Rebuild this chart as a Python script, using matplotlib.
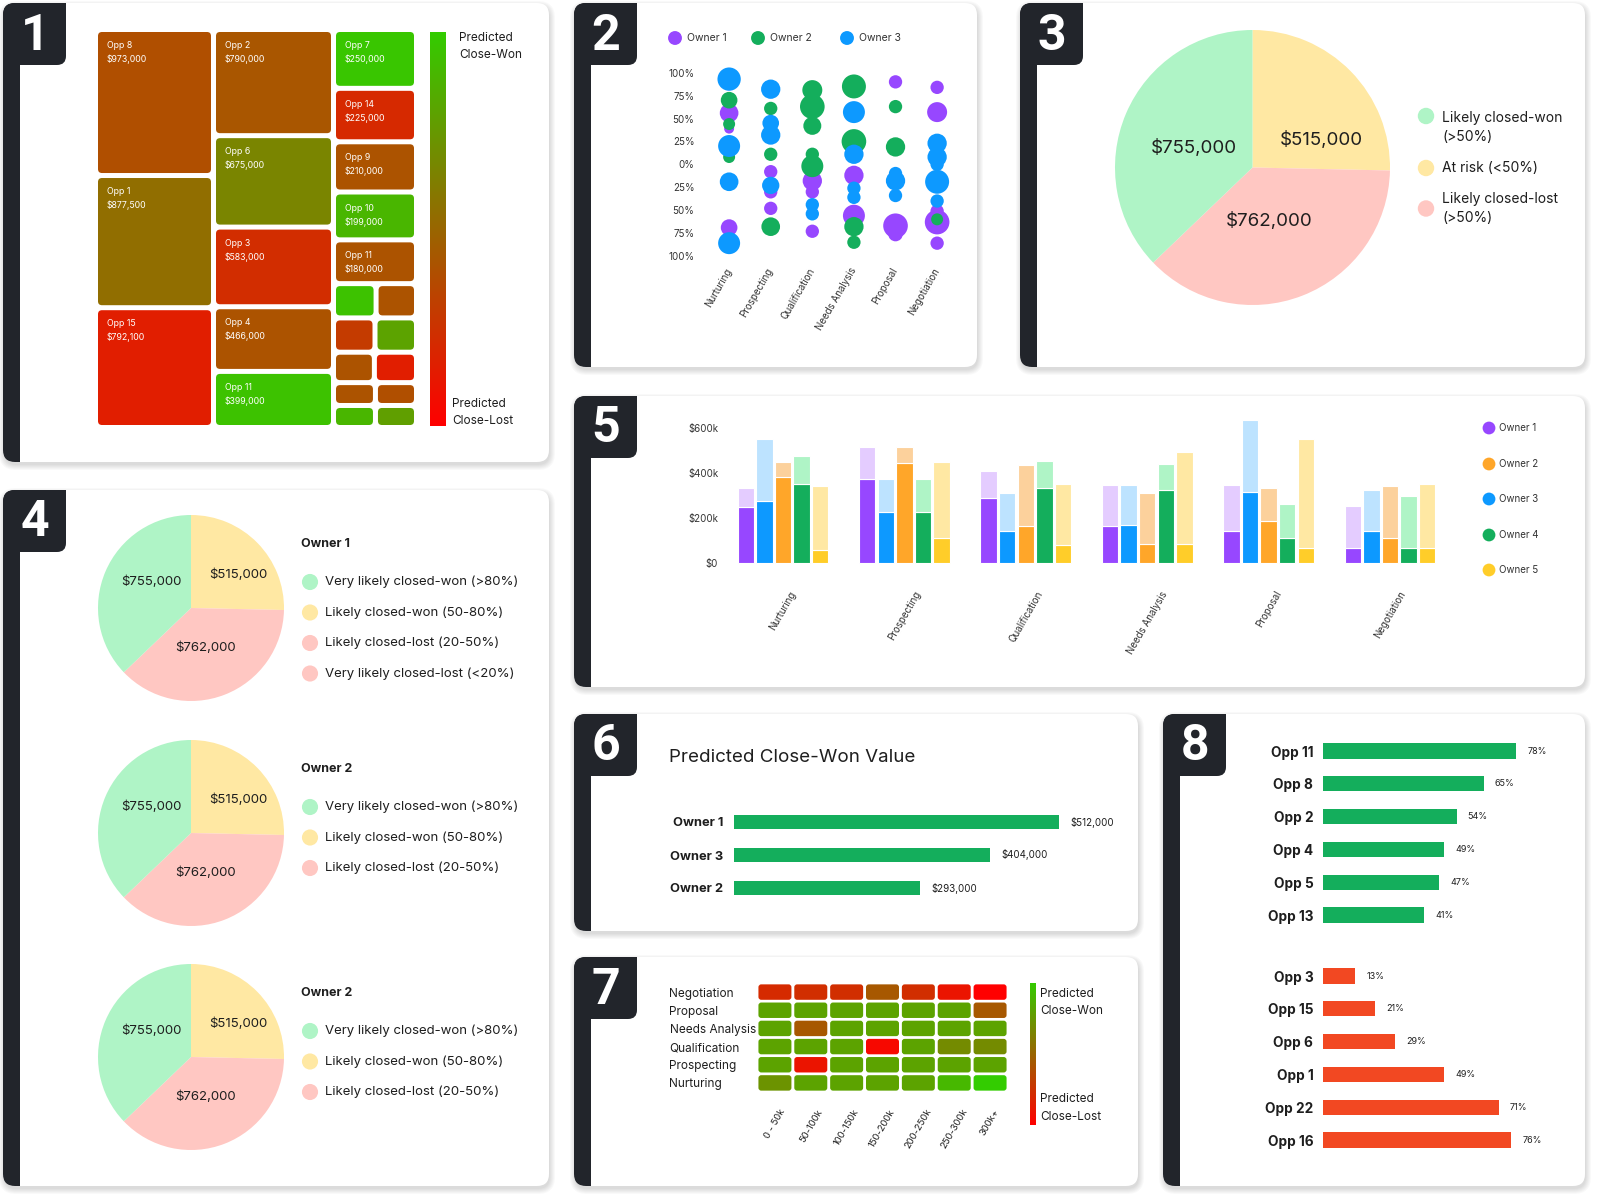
import numpy as np
import matplotlib.pyplot as plt
from matplotlib.patches import FancyBboxPatch, Rectangle
from matplotlib.colors import LinearSegmentedColormap

plt.rcParams['font.family'] = ['Inter', 'DejaVu Sans']

# ---------------- data ----------------
# 1 - treemap (value + predicted score 0=lost .. 1=won)
tm_names = ['Opp 8', 'Opp 1', 'Opp 15',
            'Opp 2', 'Opp 6', 'Opp 3', 'Opp 4', 'Opp 11',
            'Opp 7', 'Opp 14', 'Opp 9', 'Opp 10', 'Opp 11',
            '', '', '', '', '', '', '', '', '', '']
tm_values = [973000, 877500, 792100,
             790000, 675000, 583000, 466000, 399000,
             250000, 225000, 210000, 199000, 180000,
             70000, 66000, 68000, 68000, 58000, 60000, 42000, 41000, 40000, 39000]
tm_scores = [.39, .54, .15,
             .42, .65, .22, .41, .95,
             .97, .20, .41, .89, .41,
             .95, .41, .29, .80, .41, .15, .41, .39, .89, .78]
tm_column = [0, 0, 0, 1, 1, 1, 1, 1, 2, 2, 2, 2, 2, 2, 2, 2, 2, 2, 2, 2, 2, 2, 2]
tm_row = [0, 1, 2, 0, 1, 2, 3, 4, 0, 1, 2, 3, 4, 5, 5, 6, 6, 7, 7, 8, 8, 9, 9]

# 2 - bubbles: stage index, probability (%), deal size ($k)
stages = ['Nurturing', 'Prospecting', 'Qualification', 'Needs Analysis', 'Proposal', 'Negotiation']
o1_stage = [0, 0, 0, 1, 1, 1, 2, 2, 2, 3, 3, 4, 4, 4, 5, 5, 5, 5, 5]
o1_pct = [56, 39, -69, -8, -30, -48, -18, -30, -73, -12, -56, 90, -67, -76, 84, 57, -51, -63, -86]
o1_size = [196, 56, 156, 100, 100, 100, 210, 100, 100, 210, 272, 100, 342, 121, 100, 225, 100, 342, 100]
o2_stage = [0, 0, 0, 1, 1, 1, 2, 2, 2, 2, 2, 3, 3, 3, 3, 4, 4, 5]
o2_pct = [70, 44, 8, 61, 11, -68, 81, 63, 42, 11, -2, 85, 25, -68, -85, 63, 19, -60]
o2_size = [156, 81, 81, 100, 100, 196, 225, 342, 182, 100, 272, 324, 342, 210, 100, 100, 210, 81]
o3_stage = [0, 0, 0, 0, 1, 1, 1, 1, 2, 2, 3, 3, 3, 3, 4, 4, 4, 5, 5, 5, 5, 5]
o3_pct = [93, 20, -19, -86, 82, 45, 32, -23, -44, -54, 57, 11, -26, -36, -10, -18, -34, 23, 8, 0, -19, -40]
o3_size = [306, 272, 196, 272, 210, 156, 210, 169, 100, 100, 272, 210, 100, 100, 100, 210, 100, 210, 210, 100, 324, 100]

# 3 - pie
p3_labels = ['Likely closed-won\n(>50%)', 'At risk (<50%)', 'Likely closed-lost\n(>50%)']
p3_values = [755000, 515000, 762000]

# 4 - pies per owner
p4_titles = ['Owner 1', 'Owner 2', 'Owner 2']
p4_won = [755000, 755000, 755000]
p4_risk = [515000, 515000, 515000]
p4_lost = [762000, 762000, 762000]
p4_legend = ['Very likely closed-won (>80%)', 'Likely closed-won (50-80%)',
             'Likely closed-lost (20-50%)', 'Very likely closed-lost (<20%)']
p4_items = [4, 3, 3]

# 5 - won ($k) and pipeline total ($k) by stage
won_o1 = [247, 372, 287, 162, 140, 66]
tot_o1 = [332, 513, 406, 346, 346, 251]
won_o2 = [381, 441, 162, 84, 184, 112]
tot_o2 = [449, 516, 432, 310, 332, 341]
won_o3 = [273, 226, 141, 169, 316, 141]
tot_o3 = [550, 372, 312, 346, 635, 324]
won_o4 = [351, 226, 334, 325, 112, 66]
tot_o4 = [475, 372, 453, 437, 263, 299]
won_o5 = [57, 110, 81, 84, 68, 66]
tot_o5 = [340, 446, 351, 491, 551, 350]

# 6
p6_owners = ['Owner 1', 'Owner 3', 'Owner 2']
p6_values = [512000, 404000, 293000]

# 7 - heatmap scores
hm_rows = ['Negotiation', 'Proposal', 'Needs Analysis', 'Qualification', 'Prospecting', 'Nurturing']
hm_cols = ['0 - 50k', '50-100k', '100-150k', '150-200k', '200-250k', '250-300k', '300k+']
hm_scores = [[.21, .23, .23, .43, .23, .10, .00],
             [.80, .80, .80, .80, .80, .80, .43],
             [.80, .43, .80, .80, .80, .80, .80],
             [.80, .80, .80, .04, .80, .68, .68],
             [.80, .10, .80, .80, .80, .80, .80],
             [.72, .80, .80, .80, .80, .90, 1.0]]

# 8
won_opps = ['Opp 11', 'Opp 8', 'Opp 2', 'Opp 4', 'Opp 5', 'Opp 13']
won_pct = [78, 65, 54, 49, 47, 41]
lost_opps = ['Opp 3', 'Opp 15', 'Opp 6', 'Opp 1', 'Opp 22', 'Opp 16']
lost_pct = [13, 21, 29, 49, 71, 76]

# ---------------- style ----------------
DARK = '#22252b'
TXT = '#1e1e1e'
PURPLE, BLUE, ORANGE, GREEN, YELLOW, RED = '#9747FF', '#0D99FF', '#FFA629', '#14AE5C', '#FFCD29', '#F24822'
L_PURPLE, L_BLUE, L_ORANGE, L_GREEN, L_YELLOW, L_RED = '#E4CCFF', '#BDE3FF', '#FCD19C', '#AFF4C6', '#FFE8A3', '#FFC7C2'
cmap = LinearSegmentedColormap.from_list('rg', ['#ff0000', '#33cc00'])

W, H = 1600, 1200
fig = plt.figure(figsize=(16, 12), dpi=100)
bg = fig.add_axes([0, 0, 1, 1])
bg.set_xlim(0, W)
bg.set_ylim(H, 0)
bg.axis('off')


def px_axes(x0, y0, x1, y1):
    ax = fig.add_axes([x0 / W, 1 - y1 / H, (x1 - x0) / W, (y1 - y0) / H])
    ax.set_facecolor('none')
    return ax


def card(x0, y0, x1, y1, num):
    for k in range(6):
        bg.add_patch(FancyBboxPatch((x0 + 1, y0 + 3), x1 - x0, y1 - y0,
                                    boxstyle=f'round,pad={k},rounding_size={12 + k}',
                                    fc='black', ec='none', alpha=0.022, zorder=1))
    body = FancyBboxPatch((x0, y0), x1 - x0, y1 - y0, boxstyle='round,pad=0,rounding_size=12',
                          fc='white', ec='none', zorder=2)
    bg.add_patch(body)
    bar = Rectangle((x0, y0), 17, y1 - y0, fc=DARK, ec='none', zorder=3)
    bg.add_patch(bar)
    bar.set_clip_path(body)
    tab = FancyBboxPatch((x0 - 20, y0 - 20), 83, 82, boxstyle='round,pad=0,rounding_size=9',
                         fc=DARK, ec='none', zorder=3)
    bg.add_patch(tab)
    tab.set_clip_path(body)
    bg.text(x0 + 32, y0 + 33, str(num), color='white', fontsize=36, fontweight='bold',
            family=['Liberation Sans Narrow', 'Roboto', 'DejaVu Sans'],
            ha='center', va='center', zorder=4)


card(3, 3, 549, 462, 1)
card(574, 3, 977, 367, 2)
card(1020, 3, 1585, 367, 3)
card(3, 490, 549, 1186, 4)
card(574, 396, 1585, 687, 5)
card(574, 714, 1138, 931, 6)
card(574, 957, 1138, 1186, 7)
card(1163, 714, 1585, 1186, 8)

# ---------------- 1: treemap ----------------
ax1 = px_axes(98, 32, 414, 425)
tw, th = 316, 393
ax1.set_xlim(0, tw)
ax1.set_ylim(th, 0)
ax1.axis('off')
col_w = [113, 115, 78]
gap = 5
col_x = [0, col_w[0] + gap, col_w[0] + col_w[1] + 2 * gap]
for c in range(3):
    idx = [i for i in range(len(tm_values)) if tm_column[i] == c]
    rows = sorted(set(tm_row[i] for i in idx))
    row_sums = [sum(tm_values[i] for i in idx if tm_row[i] == r) for r in rows]
    avail = th - gap * (len(rows) - 1)
    y = 0
    for r, rs in zip(rows, row_sums):
        hgt = avail * rs / sum(row_sums)
        cells = [i for i in idx if tm_row[i] == r]
        aw = col_w[c] - gap * (len(cells) - 1)
        x = col_x[c]
        for i in cells:
            wdt = aw * tm_values[i] / rs
            ax1.add_patch(FancyBboxPatch((x, y), wdt, hgt, boxstyle='round,pad=0,rounding_size=4',
                                         fc=cmap(tm_scores[i]), ec='none'))
            if tm_names[i]:
                ax1.text(x + 9, y + 9, f'{tm_names[i]}\n${tm_values[i]:,}', color='white',
                         fontsize=6.3, ha='left', va='top', linespacing=1.6)
            x += wdt + gap
        y += hgt + gap

cb1 = px_axes(430, 32, 446, 426)
cb1.imshow(np.linspace(1, 0, 256)[:, None], cmap=cmap, aspect='auto')
cb1.axis('off')
bg.text(459, 46.5, 'Predicted\nClose-Won', fontsize=8.5, color=TXT, ha='left', va='center', linespacing=1.45, zorder=5)
bg.text(452, 412.5, 'Predicted\nClose-Lost', fontsize=8.5, color=TXT, ha='left', va='center', linespacing=1.45, zorder=5)

# ---------------- 2: bubbles ----------------
ax2 = px_axes(700, 72.7, 960, 256)
ax2.set_xlim(-0.7, 5.55)
ax2.set_ylim(-100, 100)
for st, pc, sz, col in [(o1_stage, o1_pct, o1_size, PURPLE),
                        (o2_stage, o2_pct, o2_size, GREEN),
                        (o3_stage, o3_pct, o3_size, BLUE)]:
    ax2.scatter(st, pc, s=np.array(sz) * 0.92, color=col, edgecolors='none', clip_on=False, zorder=3)
yt = [100, 75, 50, 25, 0, -25, -50, -75, -100]
ax2.set_yticks(yt)
ax2.set_yticklabels([f'{abs(v)}%' for v in yt])
ax2.set_xticks(range(len(stages)))
ax2.set_xticklabels(stages, rotation=60, ha='right', va='center', rotation_mode='anchor')
for s in ax2.spines.values():
    s.set_visible(False)
ax2.tick_params(length=0, labelsize=7, colors='#333333')
ax2.tick_params(axis='y', pad=4)
ax2.tick_params(axis='x', pad=9)
for x, name, col in [(675, 'Owner 1', PURPLE), (758, 'Owner 2', GREEN), (847, 'Owner 3', BLUE)]:
    bg.scatter([x], [38], s=100, color=col, edgecolors='none', zorder=5)
    bg.text(x + 12, 38, name, fontsize=7.5, color='#333333', va='center', ha='left', zorder=5)

# ---------------- 3: pie ----------------
ax3 = px_axes(1115, 30, 1390, 305)
pie_order = [1, 2, 0]
p3_colors = [L_GREEN, L_YELLOW, L_RED]
ax3.pie([p3_values[i] for i in pie_order], colors=[p3_colors[i] for i in pie_order],
        startangle=90, counterclock=False, wedgeprops=dict(linewidth=0))
ax3.set_xlim(-1, 1)
ax3.set_ylim(-1, 1)
for (dx, dy), v in zip([(-0.43, 0.14), (0.5, 0.2), (0.12, -0.39)], p3_values):
    ax3.text(dx, dy, f'${v:,}', fontsize=13.5, color=TXT, ha='center', va='center')
for y, lab, col in zip([127.5, 168, 208.5], p3_labels, p3_colors):
    cy = 116 if y == 127.5 else y
    bg.scatter([1426], [cy], s=140, color=col, edgecolors='none', zorder=5)
    bg.text(1442, y, lab, fontsize=10, color=TXT, ha='left', va='center', linespacing=1.4, zorder=5)

# ---------------- 4: pies per owner ----------------
p4_centers = [608, 833, 1057]
leg_colors = [L_GREEN, L_YELLOW, L_RED, L_RED]
for k, cy in enumerate(p4_centers):
    r = 93
    ax = px_axes(191 - r, cy - r, 191 + r, cy + r)
    vals = [p4_risk[k], p4_lost[k], p4_won[k]]
    ax.pie(vals, colors=[L_YELLOW, L_RED, L_GREEN], startangle=90, counterclock=False,
           wedgeprops=dict(linewidth=0))
    ax.set_xlim(-1, 1)
    ax.set_ylim(-1, 1)
    for (dx, dy), v in zip([(-0.43, 0.28), (0.51, 0.36), (0.16, -0.43)], [p4_won[k], p4_risk[k], p4_lost[k]]):
        ax.text(dx, dy, f'${v:,}', fontsize=9.5, color=TXT, ha='center', va='center')
    bg.text(301, cy - 64, p4_titles[k], fontsize=9, fontweight='bold', color=TXT, ha='left', va='center', zorder=5)
    for j in range(p4_items[k]):
        yy = cy - 26 + 30.5 * j
        bg.scatter([310], [yy], s=135, color=leg_colors[j], edgecolors='none', zorder=5)
        bg.text(325, yy, p4_legend[j], fontsize=9.5, color=TXT, ha='left', va='center', zorder=5)

# ---------------- 5: grouped bars ----------------
ax5 = px_axes(728, 405, 1450, 563)
ax5.set_xlim(-0.453, 5.494)
ax5.set_ylim(0, 700)
xs = np.arange(len(stages))
series5 = [(won_o1, tot_o1, PURPLE, L_PURPLE), (won_o3, tot_o3, BLUE, L_BLUE),
           (won_o2, tot_o2, ORANGE, L_ORANGE), (won_o4, tot_o4, GREEN, L_GREEN),
           (won_o5, tot_o5, YELLOW, L_YELLOW)]
for k, (won, tot, dc, lc) in enumerate(series5):
    x = xs + (k - 2) * 0.153
    ax5.bar(x, won, width=0.135, color=dc, edgecolor='white', linewidth=0.8, clip_on=False)
    ax5.bar(x, np.array(tot) - np.array(won), bottom=won, width=0.135, color=lc,
            edgecolor='white', linewidth=0.8, clip_on=False)
ax5.set_yticks([0, 200, 400, 600])
ax5.set_yticklabels(['$0', '$200k', '$400k', '$600k'])
ax5.set_xticks(xs)
ax5.set_xticklabels(stages, rotation=60, ha='center', va='top')
for s in ax5.spines.values():
    s.set_visible(False)
ax5.tick_params(length=0, labelsize=7, colors='#333333')
ax5.tick_params(axis='y', pad=7)
ax5.tick_params(axis='x', pad=19)
for y, name, col in zip([428, 464, 499, 535, 570], ['Owner 1', 'Owner 2', 'Owner 3', 'Owner 4', 'Owner 5'],
                        [PURPLE, ORANGE, BLUE, GREEN, YELLOW]):
    bg.scatter([1489], [y], s=85, color=col, edgecolors='none', zorder=5)
    bg.text(1499, y, name, fontsize=7, color='#333333', ha='left', va='center', zorder=5)

# ---------------- 6: horizontal bars ----------------
bg.text(669, 757, 'Predicted Close-Won Value', fontsize=13.5, color=TXT, ha='left', va='center', zorder=5)
ax6 = px_axes(734, 805.5, 1059, 904.5)
ax6.set_xlim(0, max(p6_values))
ax6.set_ylim(2.5, -0.5)
ax6.barh(range(3), p6_values, height=0.44, color=GREEN)
for i, v in enumerate(p6_values):
    ax6.annotate(f'${v:,}', (v, i), xytext=(8, 0), textcoords='offset points',
                 fontsize=7, color=TXT, va='center', ha='left', annotation_clip=False)
ax6.set_yticks(range(3))
ax6.set_yticklabels(p6_owners, fontweight='bold', fontsize=9.3, color=TXT)
ax6.set_xticks([])
for s in ax6.spines.values():
    s.set_visible(False)
ax6.tick_params(length=0, pad=8)

# ---------------- 7: heatmap ----------------
ax7 = px_axes(757, 983, 1008, 1092)
nr, nc = len(hm_rows), len(hm_cols)
ax7.set_xlim(0, nc)
ax7.set_ylim(nr, 0)
for i in range(nr):
    for j in range(nc):
        ax7.add_patch(FancyBboxPatch((j + 0.04, i + 0.075), 0.92, 0.85,
                                     boxstyle='round,pad=0,rounding_size=0.08', mutation_aspect=1.98,
                                     fc=cmap(hm_scores[i][j]), ec='none'))
ax7.set_yticks(np.arange(nr) + 0.5)
ax7.set_yticklabels(hm_rows, ha='left', fontsize=8.5, color=TXT)
ax7.set_xticks(np.arange(nc) + 0.5)
ax7.set_xticklabels(hm_cols, rotation=60, ha='center', va='top', fontsize=6.8, color=TXT)
for s in ax7.spines.values():
    s.set_visible(False)
ax7.tick_params(length=0)
ax7.tick_params(axis='y', pad=63)
ax7.tick_params(axis='x', pad=11)
cb7 = px_axes(1030, 983, 1036, 1125)
cb7.imshow(np.linspace(1, 0, 256)[:, None], cmap=cmap, aspect='auto')
cb7.axis('off')
bg.text(1040, 1002.5, 'Predicted\nClose-Won', fontsize=8.5, color=TXT, ha='left', va='center', linespacing=1.6, zorder=5)
bg.text(1040, 1108, 'Predicted\nClose-Lost', fontsize=8.5, color=TXT, ha='left', va='center', linespacing=1.6, zorder=5)

# ---------------- 8: opportunities ----------------
pitch = 32.8
red_start = 6.86
ax8 = px_axes(1323, 751 - pitch / 2, 1570, 751 + pitch * (red_start + 5.5))
ax8.set_xlim(0, 247 / 2.475)
ax8.set_ylim(red_start + 5.5, -0.5)
pos_g = np.arange(len(won_opps))
pos_r = np.arange(len(lost_opps)) + red_start
ax8.barh(pos_g, won_pct, height=0.46, color=GREEN)
ax8.barh(pos_r, lost_pct, height=0.46, color=RED)
for p, v in list(zip(pos_g, won_pct)) + list(zip(pos_r, lost_pct)):
    ax8.annotate(f'{v}%', (v, p), xytext=(8, 0), textcoords='offset points',
                 fontsize=6.5, color=TXT, va='center', ha='left')
ax8.set_yticks(np.concatenate([pos_g, pos_r]))
ax8.set_yticklabels(won_opps + lost_opps, fontweight='bold', fontsize=9.8, color=TXT)
ax8.set_xticks([])
for s in ax8.spines.values():
    s.set_visible(False)
ax8.tick_params(length=0, pad=7)

fig.savefig('out.png', dpi=100, facecolor='white')
